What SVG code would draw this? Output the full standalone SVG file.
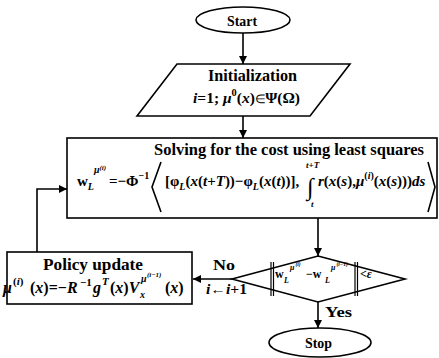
<svg xmlns="http://www.w3.org/2000/svg" width="439" height="358" viewBox="0 0 439 358" font-family="Liberation Serif, Times New Roman, serif">
<defs>
<marker id="ah" viewBox="0 0 10 10" refX="10" refY="5" markerWidth="8" markerHeight="8" markerUnits="userSpaceOnUse" orient="auto">
<path d="M0,0 L10,5 L0,10 z" fill="#000"/>
</marker>
<style>
.s{fill:#fff;stroke:#000;stroke-width:1.6}
.c{fill:none;stroke:#000;stroke-width:1.6}
.t{font-family:"Liberation Serif","Times New Roman",serif;font-weight:bold;fill:#000}
.i{font-style:italic}
.bar{stroke:#000;stroke-width:1.2}
</style>
</defs>
<rect width="439" height="358" fill="#fff"/>

<g id="connectors">
<line class="c" x1="243" y1="33" x2="243" y2="64" marker-end="url(#ah)"/>
<line class="c" x1="243" y1="116" x2="243" y2="138" marker-end="url(#ah)"/>
<line class="c" x1="318" y1="218" x2="318" y2="256" marker-end="url(#ah)"/>
<line class="c" x1="232" y1="279" x2="193" y2="279" marker-end="url(#ah)"/>
<line class="c" x1="318" y1="302" x2="318" y2="328" marker-end="url(#ah)"/>
<polyline class="c" points="37,252 37,189 67,189" marker-end="url(#ah)"/>
<text class="t" x="213" y="270" font-size="15" textLength="22" lengthAdjust="spacingAndGlyphs">No</text>
<text class="t" x="206" y="294" font-size="14" textLength="41" lengthAdjust="spacingAndGlyphs"><tspan class="i">i</tspan>←<tspan class="i">i</tspan>+1</text>
<text class="t" x="325" y="317" font-size="15" textLength="27" lengthAdjust="spacingAndGlyphs">Yes</text>
</g>

<g id="start">
<ellipse class="s" cx="243" cy="20" rx="47" ry="13"/>
<text class="t" x="227" y="26" font-size="14" textLength="30" lengthAdjust="spacingAndGlyphs">Start</text>
</g>

<g id="init">
<polygon class="s" points="177,64 350,64 310,116 137,116"/>
<text class="t" x="208" y="81" font-size="16" textLength="89" lengthAdjust="spacingAndGlyphs">Initialization</text>
<text class="t" x="193" y="103" font-size="15" textLength="107" lengthAdjust="spacingAndGlyphs"><tspan class="i">i</tspan>=1; <tspan class="i">μ</tspan><tspan font-size="10" dy="-7">0</tspan><tspan dy="7">(</tspan><tspan class="i">x</tspan>)<tspan font-size="12" font-weight="normal">∈</tspan>Ψ(Ω)</text>
</g>

<g id="solve">
<rect class="s" x="67" y="138" width="370" height="80" stroke-width="2"/>
<text class="t" x="154" y="155" font-size="16" textLength="270" lengthAdjust="spacingAndGlyphs">Solving for the cost using least squares</text>
<text class="t" x="77" y="186" font-size="15">w<tspan class="i" font-size="10" dy="4">L</tspan><tspan class="i" font-size="10" dy="-17">μ</tspan><tspan class="i" font-size="7" dy="-3">(i)</tspan></text>
<text class="t" x="109" y="186" font-size="15">=−Φ<tspan font-size="10" dy="-7">−1</tspan></text>
<polyline class="c" points="161,162 152,187 161,212" stroke-width="1.3"/>
<text class="t" x="165" y="186" font-size="15">[φ<tspan class="i" font-size="10" dy="4">L</tspan><tspan dy="-4">(</tspan><tspan class="i">x</tspan>(<tspan class="i">t</tspan>+<tspan class="i">T</tspan>))−φ<tspan class="i" font-size="10" dy="4">L</tspan><tspan dy="-4">(</tspan><tspan class="i">x</tspan>(<tspan class="i">t</tspan>))],</text>
<text class="t i" x="306" y="168" font-size="9">t+T</text>
<text class="t" x="307" y="195" font-size="24">∫</text>
<text class="t i" x="311" y="207" font-size="9">t</text>
<text class="t" x="318" y="186" font-size="15"><tspan class="i">r</tspan>(<tspan class="i">x</tspan>(<tspan class="i">s</tspan>),<tspan class="i">μ</tspan><tspan font-size="10" dy="-7">(<tspan class="i">i</tspan>)</tspan><tspan dy="7">(</tspan><tspan class="i">x</tspan>(<tspan class="i">s</tspan>)))<tspan class="i">ds</tspan></text>
<polyline class="c" points="428,162 435,187 428,212" stroke-width="1.3"/>
</g>

<g id="decision">
<polygon class="s" points="318,256 405,279 318,302 232,279"/>
<line class="bar" x1="271" y1="262" x2="271" y2="296"/>
<line class="bar" x1="273.5" y1="262" x2="273.5" y2="296"/>
<line class="bar" x1="355" y1="262" x2="355" y2="296"/>
<line class="bar" x1="357.5" y1="262" x2="357.5" y2="296"/>
<text class="t" x="275" y="278" font-size="12">w</text>
<text class="t i" x="284" y="283" font-size="8">L</text>
<text class="t i" x="290" y="270" font-size="8">μ</text>
<text class="t i" x="295.5" y="266" font-size="5.5">(i)</text>
<text class="t" x="306" y="278" font-size="12">−w</text>
<text class="t i" x="325" y="283" font-size="8">L</text>
<text class="t i" x="331" y="270" font-size="8">μ</text>
<text class="t i" x="336.5" y="266" font-size="5.5">(i−1)</text>
<text class="t" x="360" y="278" font-size="12">&lt;<tspan class="i">ε</tspan></text>
</g>

<g id="policy">
<rect class="s" x="7" y="252" width="185" height="52"/>
<text class="t" x="43" y="270" font-size="16" textLength="100" lengthAdjust="spacingAndGlyphs">Policy update</text>
<text class="t i" x="3" y="293" font-size="16">μ</text>
<text class="t" x="13" y="285" font-size="11">(<tspan class="i">i</tspan>)</text>
<text class="t" x="30" y="293" font-size="16">(<tspan class="i">x</tspan>)=−<tspan class="i">R</tspan></text>
<text class="t" x="80" y="286" font-size="11">−1</text>
<text class="t i" x="93" y="293" font-size="16">g</text>
<text class="t i" x="102" y="285" font-size="11">T</text>
<text class="t" x="110" y="293" font-size="16">(<tspan class="i">x</tspan>)<tspan class="i">V</tspan></text>
<text class="t i" x="140" y="298" font-size="10">x</text>
<text class="t i" x="141" y="282" font-size="10">μ</text>
<text class="t i" x="147" y="277" font-size="7">(i−1)</text>
<text class="t" x="165" y="293" font-size="16">(<tspan class="i">x</tspan>)</text>
</g>

<g id="stop">
<ellipse class="s" cx="320" cy="342.5" rx="51" ry="14.5"/>
<text class="t" x="305" y="348" font-size="14" textLength="27" lengthAdjust="spacingAndGlyphs">Stop</text>
</g>
</svg>
